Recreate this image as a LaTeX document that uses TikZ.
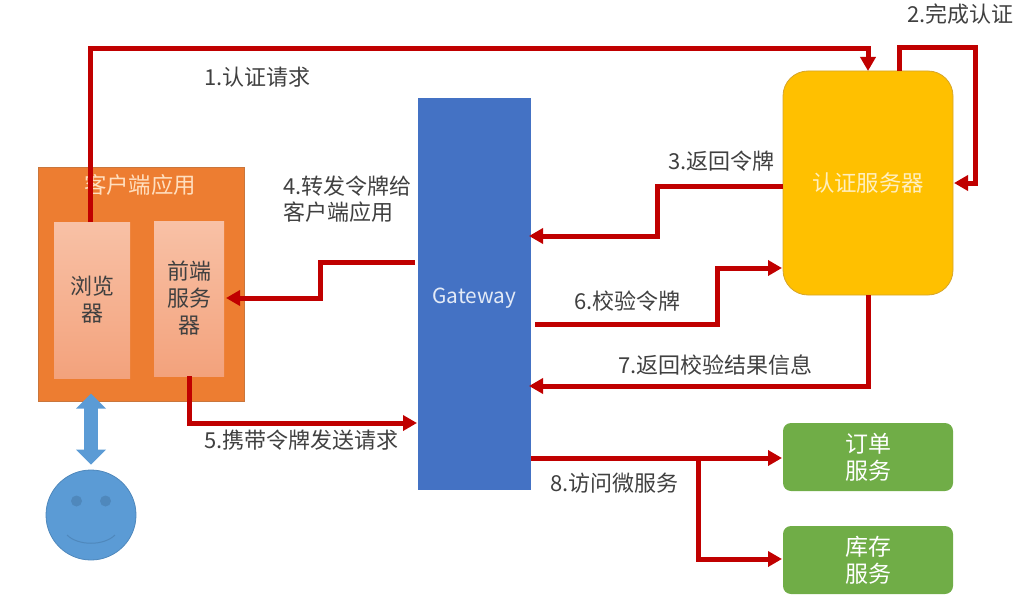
\documentclass[tikz,border=0pt]{standalone}
\usepackage{fontspec}
\setmainfont{Noto Sans CJK SC}
\usetikzlibrary{arrows.meta,shapes.arrows,calc}
\definecolor{flowred}{HTML}{C00000}
\definecolor{txtgray}{HTML}{404040}
\definecolor{orangefill}{HTML}{ED7D31}
\definecolor{orangeline}{HTML}{C9763C}
\definecolor{innertop}{HTML}{F8C1A6}
\definecolor{innerbot}{HTML}{F3A27C}
\definecolor{bluefill}{HTML}{4472C4}
\definecolor{goldfill}{HTML}{FFC000}
\definecolor{goldline}{HTML}{D6A52A}
\definecolor{greenfill}{HTML}{70AD47}
\definecolor{facefill}{HTML}{5B9BD5}
\definecolor{faceline}{HTML}{4F88BC}
\tikzset{
  x=1pt,y=-1pt,
  flow/.style={draw=flowred,line width=5pt,-{Triangle[length=14pt,width=15pt]}},
  lbl/.style={text=txtgray,font=\fontsize{22}{26}\selectfont,inner sep=0pt,align=left},
  whitetxt/.style={font=\fontsize{22.4}{26}\selectfont,align=center,inner sep=0pt},
  innerbox/.style={top color=innertop,bottom color=innerbot,draw=none,inner sep=0pt,minimum height=156pt,text=txtgray,font=\fontsize{22}{27}\selectfont,align=center},
  greenbox/.style={fill=greenfill,draw=none,rounded corners=8pt,minimum width=170pt,minimum height=68pt,inner sep=0pt,text=white,font=\fontsize{23}{27}\selectfont,align=center}
}
\begin{document}
\begin{tikzpicture}
\useasboundingbox (0,0) rectangle (1025,599);
% boxes
\node[fill=orangefill,draw=orangeline,line width=.8pt,minimum width=206pt,minimum height=234pt,inner sep=0pt] (client) at (141,284) {};
\node[whitetxt,text=white!75!orange] (clienttxt) at (140,185) {客户端应用};
\node[innerbox,minimum width=76pt] (browser) at (92,300) {浏览\\器};
\node[innerbox,minimum width=70pt,minimum height=155pt] (front) at (189,298.5) {前端\\服务\\器};
\node[fill=bluefill,draw=none,minimum width=113pt,minimum height=392pt,inner sep=0pt,text=white!85!bluefill,font=\fontsize{20.8}{24}\selectfont,text depth=0pt] (gw) at (474.5,294) {\raisebox{-3pt}{Gateway}};
\node[fill=goldfill,draw=goldline,line width=.8pt,rounded corners=25pt,minimum width=170pt,minimum height=224pt,inner sep=0pt,text=white!75!goldfill,font=\fontsize{22.4}{26}\selectfont] (auth) at (868,183) {认证服务器};
\node[greenbox] (order) at (868,457) {订单\\服务};
\node[greenbox] (stock) at (868,560) {库存\\服务};
% person
\node[circle,fill=facefill,draw=faceline,line width=.8pt,minimum size=90pt,inner sep=0pt] (face) at (91,515) {};
\node[circle,fill=faceline,minimum size=11pt,inner sep=0pt] (eyeL) at (76.5,501) {};
\node[circle,fill=faceline,minimum size=11pt,inner sep=0pt] (eyeR) at (105.5,501) {};
\coordinate (smileL) at (67,535);
\coordinate (smileR) at (115,535);
\draw[faceline,line width=1pt] (smileL) .. controls (78,546) and (104,546) .. (smileR);
\node[double arrow,rotate=90,fill=facefill,draw=none,minimum height=71pt,minimum width=30pt,double arrow head extend=7pt,inner sep=0pt,double arrow head indent=0pt] (updown) at (91,429) {\phantom{|}};
% junctions
\coordinate (a1) at (90,222);
\coordinate (a1b) at (868,71);
\coordinate (a2) at (899,71);
\coordinate (a2b) at (954,183);
\coordinate (a3) at (783,186);
\coordinate (a3b) at (529,236);
\coordinate (a4) at (415,262);
\coordinate (a4b) at (226,298);
\coordinate (a5) at (189,376);
\coordinate (a5b) at (417,423);
\coordinate (a6) at (535,324);
\coordinate (a6b) at (782,268);
\coordinate (a7) at (868,295);
\coordinate (a7b) at (529,386);
\coordinate (a8) at (531,458);
\coordinate (a8b) at (782,458);
\coordinate (a8j) at (698,458);
\coordinate (a8c) at (782,559);
% connectors
\draw[flow] (a1) |- (480,49) -| (a1b);
\draw[flow] (a2) |- (975,48) |- (a2b);
\draw[flow] (a3) -- (657,186) |- (a3b);
\draw[flow] (a4) -- (320,262) |- (a4b);
\draw[flow] (a5) |- (a5b);
\draw[flow] (a6) -- (717,324) |- (a6b);
\draw[flow] (a7) |- (a7b);
\draw[flow] (a8) -- (a8b);
\draw[flow] (a8j) |- (a8c);
% labels
\node[lbl,anchor=west] (l1) at (204,77) {1.认证请求};
\node[lbl,anchor=west] (l2) at (907,14) {2.完成认证};
\node[lbl,anchor=west] (l3) at (668,161) {3.返回令牌};
\node[lbl,anchor=west] (l4) at (283,199) {4.转发令牌给\\客户端应用};
\node[lbl,anchor=west] (l5) at (204,440) {5.携带令牌发送请求};
\node[lbl,anchor=west] (l6) at (574,301) {6.校验令牌};
\node[lbl,anchor=west] (l7) at (618,365) {7.返回校验结果信息};
\node[lbl,anchor=west] (l8) at (550,483) {8.访问微服务};
\end{tikzpicture}
\end{document}
